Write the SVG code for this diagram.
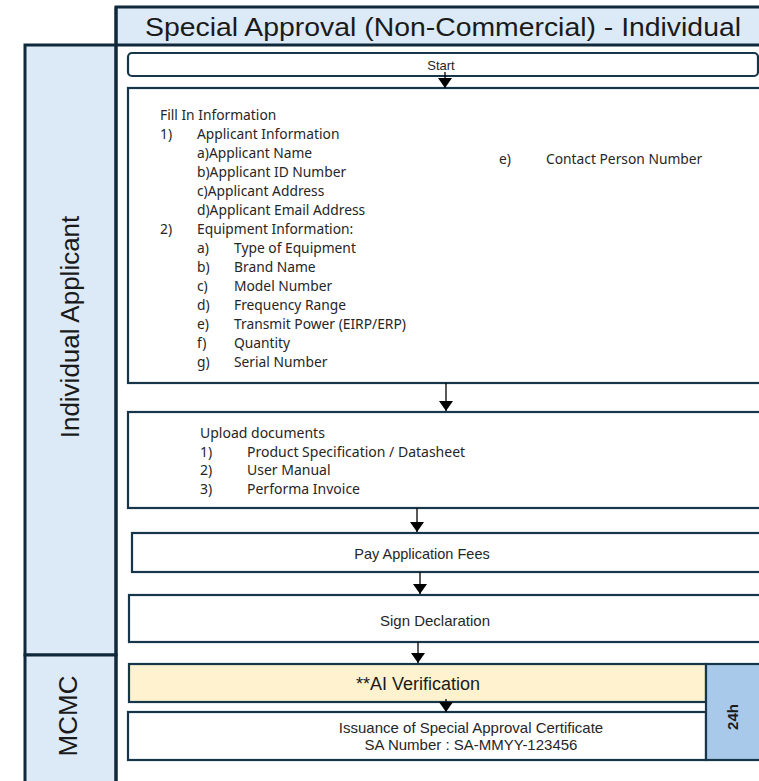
<svg xmlns="http://www.w3.org/2000/svg" width="759" height="781" viewBox="0 0 759 781">
<defs>
<style>
.lane{fill:#dce9f6;stroke:#10293a;stroke-width:3}
.box{fill:#ffffff;stroke:#17364a;stroke-width:2.2}
.t{font-family:"Liberation Sans",Arial,sans-serif;font-size:15px;fill:#262626}
.n{font-family:"Noto Sans","Liberation Sans",sans-serif;font-size:13.8px;fill:#262626}
.c{text-anchor:middle}
.conn{stroke:#000;stroke-width:1.3;fill:none}
.head{fill:#000}
</style>
<marker id="arr" viewBox="0 0 10 14" refX="10" refY="7" markerWidth="10" markerHeight="14" markerUnits="userSpaceOnUse" orient="auto">
<path d="M0,0 L10,7 L0,14 Z" class="head"/>
</marker>
</defs>
<rect width="759" height="781" fill="#ffffff"/>

<g id="title">
<rect x="116" y="7" width="660" height="38" class="lane"/>
<text x="443" y="36" class="c" textLength="596" lengthAdjust="spacingAndGlyphs" style="font-family:'Liberation Sans',Arial,sans-serif;font-size:25.5px;fill:#1a1a1a">Special Approval (Non-Commercial) - Individual</text>
</g>

<g id="lane-applicant">
<rect x="25" y="45" width="91" height="610" class="lane"/>
<text transform="translate(79,327) rotate(-90)" class="c" style="font-family:'Liberation Sans',Arial,sans-serif;font-size:26px;fill:#1a1a1a">Individual Applicant</text>
</g>

<g id="lane-mcmc">
<rect x="25" y="655" width="91" height="140" class="lane"/>
<text transform="translate(77,716) rotate(-90)" class="c" style="font-family:'Liberation Sans',Arial,sans-serif;font-size:26px;fill:#1a1a1a">MCMC</text>
</g>

<line x1="116" y1="7" x2="116" y2="781" stroke="#10293a" stroke-width="3"/>

<g id="start">
<rect x="128" y="53" width="630" height="23" rx="4" class="box"/>
<text x="441" y="70" class="t c" style="font-size:13px">Start</text>
</g>

<g id="fill-info">
<rect x="128" y="88" width="650" height="295" class="box"/>
<g class="n">
<text x="160" y="120">Fill In Information</text>
<text x="160" y="139">1)</text><text x="197" y="139">Applicant Information</text>
<text x="197" y="158">a)Applicant Name</text>
<text x="197" y="177">b)Applicant ID Number</text>
<text x="197" y="196">c)Applicant Address</text>
<text x="197" y="215">d)Applicant Email Address</text>
<text x="160" y="234">2)</text><text x="197" y="234">Equipment Information:</text>
<text x="197" y="253">a)</text><text x="234" y="253">Type of Equipment</text>
<text x="197" y="272">b)</text><text x="234" y="272">Brand Name</text>
<text x="197" y="291">c)</text><text x="234" y="291">Model Number</text>
<text x="197" y="310">d)</text><text x="234" y="310">Frequency Range</text>
<text x="197" y="329">e)</text><text x="234" y="329">Transmit Power (EIRP/ERP)</text>
<text x="197" y="348">f)</text><text x="234" y="348">Quantity</text>
<text x="197" y="367">g)</text><text x="234" y="367">Serial Number</text>
<text x="499" y="164">e)</text><text x="546" y="164">Contact Person Number</text>
</g>
</g>

<g id="upload">
<rect x="128" y="412" width="650" height="96" class="box"/>
<g class="n" style="font-size:14px">
<text x="200" y="438">Upload documents</text>
<text x="200" y="457">1)</text><text x="247" y="457">Product Specification / Datasheet</text>
<text x="200" y="475">2)</text><text x="247" y="475">User Manual</text>
<text x="200" y="494">3)</text><text x="247" y="494">Performa Invoice</text>
</g>
</g>

<g id="pay">
<rect x="132" y="533" width="646" height="39" class="box"/>
<text x="422" y="559" class="t c" style="font-size:14.5px">Pay Application Fees</text>
</g>

<g id="sign">
<rect x="129" y="595" width="649" height="47" class="box"/>
<text x="435" y="626" class="t c">Sign Declaration</text>
</g>

<g id="ai">
<rect x="129" y="664" width="577" height="38" fill="#fff2cf" stroke="#17364a" stroke-width="2.2"/>
<text x="418" y="690" class="c" style="font-family:'Liberation Sans',Arial,sans-serif;font-size:18px;fill:#1a1a1a">**AI Verification</text>
</g>

<g id="issuance">
<rect x="128" y="712" width="578" height="48" class="box"/>
<text x="471" y="733" class="t c">Issuance of Special Approval Certificate</text>
<text x="471" y="750" class="t c">SA Number : SA-MMYY-123456</text>
</g>

<g id="sla">
<rect x="706" y="664" width="60" height="96" fill="#a9c9eb" stroke="#17364a" stroke-width="2.2"/>
<text transform="translate(738,717) rotate(-90)" class="c" style="font-family:'Liberation Sans',Arial,sans-serif;font-size:15px;font-weight:bold;fill:#1a1a1a">24h</text>
</g>

<g id="connectors">
<line x1="445" y1="72" x2="445" y2="88" class="conn" marker-end="url(#arr)"/>
<line x1="446" y1="383" x2="446" y2="411" class="conn" marker-end="url(#arr)"/>
<line x1="417" y1="508" x2="417" y2="532" class="conn" marker-end="url(#arr)"/>
<line x1="420" y1="572" x2="420" y2="594" class="conn" marker-end="url(#arr)"/>
<line x1="418" y1="642" x2="418" y2="663" class="conn" marker-end="url(#arr)"/>
<line x1="446" y1="699" x2="446" y2="712" class="conn" marker-end="url(#arr)"/>
</g>
</svg>
